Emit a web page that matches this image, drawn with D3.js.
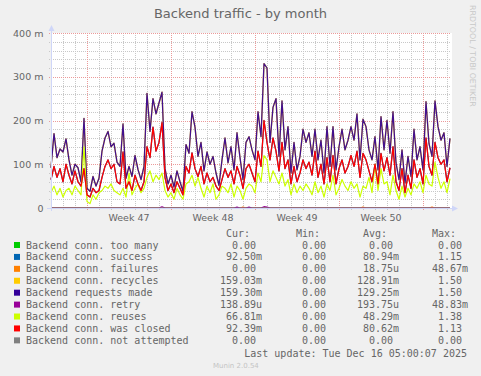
<!DOCTYPE html>
<html><head><meta charset="utf-8">
<script src="https://cdn.jsdelivr.net/npm/d3@7"></script>
<style>
body{margin:0;background:#f0f0f0;}
svg{display:block}
.mono{font-family:"DejaVu Sans Mono",monospace;font-size:10px;fill:#666;white-space:pre}
</style>
</head><body>
<svg id="chart" width="481" height="376"></svg>
<script>
// ---------------- data ----------------
const title = "Backend traffic - by month";
const startTime = new Date(Date.UTC(2025, 10, 14, 0, 0, 0));
const endTime = new Date(Date.UTC(2025, 11, 17, 8, 0, 0));
const stepHours = 6;
const yTicks = [0, 100, 200, 300, 400];      // in milli-units
const yMinorStep = 20;

// Backend requests made (m)
const requestsMade = [92,170,115,135,128,158,110,75,100,92,60,205,45,38,72,50,68,130,160,175,
140,148,105,95,192,68,95,72,120,88,65,95,262,175,250,215,240,265,90,55,
75,48,85,60,38,145,125,220,185,118,150,85,128,100,118,80,52,110,160,103,
140,87,172,115,65,150,163,133,110,220,163,330,320,150,230,250,118,245,133,186,
80,150,87,118,180,150,172,118,180,110,155,80,186,95,186,87,140,180,133,155,
186,155,215,110,203,186,133,110,163,87,209,133,200,125,220,103,65,133,57,118,
72,180,110,140,87,243,147,118,245,186,155,172,95,159];
// Backend conn. recycles (m) – follows requests made almost exactly
const recycles = requestsMade;
// Backend conn. was closed (m)
const wasClosed = [65,95,70,90,60,100,75,55,85,60,50,90,30,25,45,35,40,70,95,110,
90,100,60,55,128,45,60,40,75,55,40,60,140,115,185,130,150,195,70,40,
55,35,60,45,30,95,80,126,90,72,95,55,80,60,70,50,40,65,90,70,
85,55,95,75,45,90,100,80,60,130,95,200,150,110,160,130,85,150,90,110,
55,95,60,80,110,90,105,75,130,70,100,55,115,60,120,55,90,110,80,95,
120,95,130,70,125,110,85,60,100,55,125,85,115,75,140,60,40,90,35,75,
45,110,70,90,55,160,95,75,150,115,100,110,60,92];
// Backend conn. success (m) – follows was closed almost exactly
const success = wasClosed;
// Backend conn. reuses (m)
const reuses = [35,50,30,45,25,40,45,30,50,40,30,140,15,10,30,20,35,40,50,45,
55,40,35,30,45,25,80,30,45,55,35,45,70,85,60,75,65,80,40,25,
35,20,45,30,20,55,60,75,50,70,45,25,50,35,55,20,30,50,45,35,
55,25,50,40,20,45,55,50,35,80,60,120,110,60,85,70,55,80,50,65,
30,55,35,50,40,55,45,30,60,35,50,25,55,40,75,30,45,65,50,40,
60,45,55,25,50,45,70,35,100,40,90,55,60,30,75,40,20,50,25,45,
30,55,45,60,35,75,55,50,105,70,45,60,35,67];
// sparse tiny spikes: [sample index, value m]
const retrySpikes = [[37,3],[62,2],[66,2],[71,3],[72,2]];
const failureSpikes = [[64,2],[104,2],[127,2]];

const seriesNames = ["Backend conn. too many","Backend conn. success","Backend conn. failures",
  "Backend conn. recycles","Backend requests made","Backend conn. retry","Backend conn. reuses",
  "Backend conn. was closed","Backend conn. not attempted"];
const seriesColors = ["#00CC00","#0066B3","#FF8000","#FFCC00","#330099","#990099","#CCFF00","#FF0000","#808080"];
const curVals = ["0.00","92.50m","0.00","159.03m","159.30m","138.89u","66.81m","92.39m","0.00"];
const minVals = ["0.00","0.00","0.00","0.00","0.00","0.00","0.00","0.00","0.00"];
const avgVals = ["0.00","80.94m","18.75u","128.91m","129.25m","193.75u","48.29m","80.62m","0.00"];
const maxVals = ["0.00","1.15","48.67m","1.50","1.50","48.83m","1.38","1.13","0.00"];
const lastUpdate = "Last update: Tue Dec 16 05:00:07 2025";

// ---------------- build ----------------
const n = requestsMade.length;
const times = d3.range(n).map(i => new Date(startTime.getTime() + i * stepHours * 3600e3));
function fromSpikes(sp) { const m = new Map(sp); return times.map((t, i) => m.get(i) || 0); }
const zeroSeries = times.map(() => 0);
const seriesData = [zeroSeries, success, fromSpikes(failureSpikes), recycles, requestsMade,
  fromSpikes(retrySpikes), reuses, wasClosed, zeroSeries];

const svg = d3.select("#chart");
const L = 51, R = 451, T = 33, B = 208;
const x = d3.scaleUtc().domain([startTime, endTime]).range([L, R]);
const y = d3.scaleLinear().domain([0, 400]).range([B, T]);

// canvas
svg.append("rect").attr("x", L).attr("y", T).attr("width", R - L + 1).attr("height", B - T).attr("fill", "#fff");

// grid
const g = svg.append("g").attr("shape-rendering", "crispEdges");
const days = d3.utcDay.range(startTime, endTime);
const mondays = d3.utcMonday.range(startTime, endTime);
const mondaySet = new Set(mondays.map(d => +d));
g.selectAll(".vmin").data(days.filter(d => !mondaySet.has(+d))).join("line")
  .attr("x1", d => Math.round(x(d)) + 0.5).attr("x2", d => Math.round(x(d)) + 0.5)
  .attr("y1", T).attr("y2", B + 2).attr("stroke", "#c8c8c8").attr("stroke-dasharray", "1,1");
const yMinor = d3.range(0, 401, yMinorStep).filter(v => v % 100 !== 0);
g.selectAll(".hmin").data(yMinor).join("line")
  .attr("x1", L - 2).attr("x2", R).attr("y1", d => Math.round(y(d)) + 0.5).attr("y2", d => Math.round(y(d)) + 0.5)
  .attr("stroke", "#c8c8c8").attr("stroke-dasharray", "1,1");
g.selectAll(".vmaj").data(mondays).join("line")
  .attr("x1", d => Math.round(x(d)) + 0.5).attr("x2", d => Math.round(x(d)) + 0.5)
  .attr("y1", T).attr("y2", B + 3).attr("stroke", "#eb9a9a").attr("stroke-dasharray", "1,1");
g.selectAll(".hmaj").data(yTicks.filter(v => v > 0)).join("line")
  .attr("x1", L - 2).attr("x2", R).attr("y1", d => Math.round(y(d)) + 0.5).attr("y2", d => Math.round(y(d)) + 0.5)
  .attr("stroke", "#eb9a9a").attr("stroke-dasharray", "1,1");

// lines
const line = d3.line().x((d, i) => x(times[i])).y(d => y(d));
const widths = [1.2,1.2,1.2,1.3,1.3,1.2,1.2,1.3,1.2];
const opac = [1,1,1,1,0.92,1,1,1,1];
seriesData.forEach((s, k) => {
  svg.append("path").datum(s).attr("d", line).attr("fill", "none")
    .attr("stroke", seriesColors[k]).attr("stroke-width", widths[k]).attr("stroke-opacity", opac[k])
    .attr("stroke-linejoin", "round");
});

// axes
const axisCol = "#CFD6F8";
svg.append("line").attr("x1", L - 4).attr("x2", 455).attr("y1", B + 0.5).attr("y2", B + 0.5).attr("stroke", axisCol);
svg.append("line").attr("x1", L + 0.5).attr("x2", L + 0.5).attr("y1", B + 3).attr("y2", 29).attr("stroke", axisCol);
svg.append("path").attr("d", `M458,${B + 0.5} L452,${B - 2.5} L452,${B + 3.5} Z`).attr("fill", axisCol);
svg.append("path").attr("d", `M${L + 0.5},25 L${L - 2.5},31 L${L + 3.5},31 Z`).attr("fill", axisCol);

// axis labels
const lab = "DejaVu Sans, sans-serif";
svg.selectAll(".ylab").data(yTicks).join("text")
  .attr("x", 43.5).attr("y", d => y(d) + 3.5).attr("text-anchor", "end")
  .attr("font-family", lab).attr("font-size", "9.5px").attr("fill", "#666")
  .text(d => d === 0 ? "0" : d + " m");
const weekFmt = d3.utcFormat("%V");
const weekCenters = d3.utcMonday.range(d3.utcMonday.floor(startTime), endTime)
  .map(m => ({ m, c: new Date(+m + 3.5 * 864e5) }))
  .filter(o => x(o.c) > L + 20 && x(o.c) < R - 20);
svg.selectAll(".wlab").data(weekCenters).join("text")
  .attr("x", d => x(d.c)).attr("y", 220.5).attr("text-anchor", "middle")
  .attr("font-family", lab).attr("font-size", "9.5px").attr("fill", "#666")
  .text(d => "Week " + weekFmt(d.m));

// title
svg.append("text").attr("x", 240.5).attr("y", 18).attr("text-anchor", "middle")
  .attr("font-family", lab).attr("font-size", "13px").attr("fill", "#666").text(title);
// watermark
svg.append("text").attr("transform", "translate(469.5,5) rotate(90)")
  .attr("font-family", lab).attr("font-size", "7.9px").attr("fill", "#c8c8c8")
  .text("RRDTOOL / TOBI OETIKER");

// legend
const colStarts = [220, 290, 357, 426];
const headers = ["Cur:", "Min:", "Avg:", "Max:"];
const cw = 6.02;
headers.forEach((h, j) => svg.append("text").attr("class", "mono")
  .attr("x", colStarts[j] + cw).attr("y", 236.5).text(h));
function fmt(v) {
  const u = /[a-z]$/.test(v) ? v.slice(-1) : " ";
  const num = u === " " ? v : v.slice(0, -1);
  return num.padStart(6, " ") + u;
}
const rowY = i => 245 + i * 11.92;
seriesNames.forEach((name, i) => {
  const cy = rowY(i);
  svg.append("rect").attr("x", 14).attr("y", cy - 3).attr("width", 6).attr("height", 6).attr("fill", seriesColors[i]);
  svg.append("text").attr("class", "mono").attr("x", 26).attr("y", cy + 3.5).text(name);
  [curVals, minVals, avgVals, maxVals].forEach((arr, j) => {
    svg.append("text").attr("class", "mono").attr("x", colStarts[j]).attr("y", cy + 3.5)
      .attr("xml:space", "preserve").text(fmt(arr[i]));
  });
});
svg.append("text").attr("class", "mono").attr("x", 467).attr("y", 356.5).attr("text-anchor", "end").text(lastUpdate);
svg.append("text").attr("x", 213).attr("y", 367.5).attr("font-family", lab).attr("font-size", "7px")
  .attr("fill", "#c4c4c4").text("Munin 2.0.54");
</script>
</body></html>
